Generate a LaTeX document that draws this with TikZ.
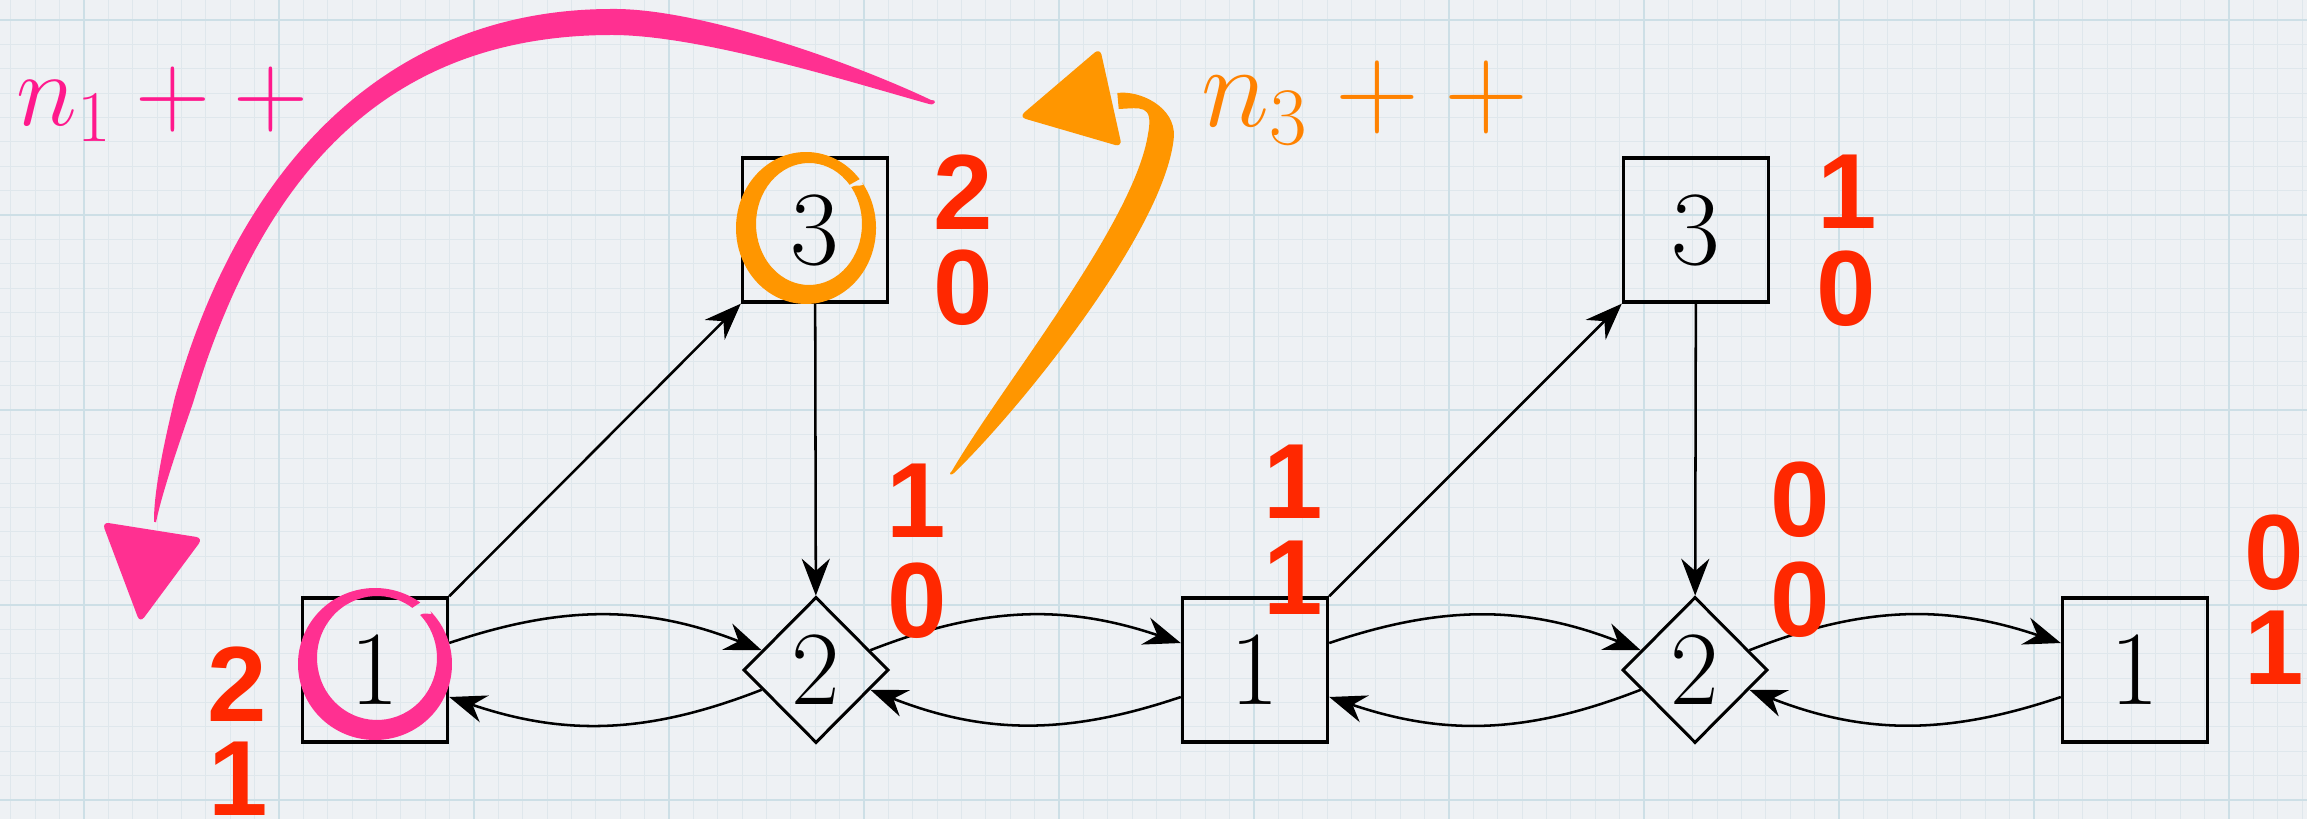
\RequirePackage{fix-cm}
\documentclass[tikz,border=0pt]{standalone}
\usepackage{fontspec}
\usepackage{graphicx}
\usetikzlibrary{arrows.meta,shapes.geometric}
\newfontfamily\numfont{Liberation Sans}
\definecolor{bgc}{RGB}{238,241,244}
\definecolor{minorc}{RGB}{223,231,236}
\definecolor{majorc}{RGB}{205,223,230}
\definecolor{pinkc}{RGB}{255,48,145}
\definecolor{pinktext}{RGB}{255,25,140}
\definecolor{orangec}{RGB}{255,150,0}
\definecolor{orangetext}{RGB}{255,130,0}
\definecolor{redc}{RGB}{255,40,0}
\tikzset{
  bx/.style={draw, line width=0.95pt, minimum width=1.45cm, minimum height=1.44cm, inner sep=0pt, fill=none, font=\fontsize{30}{36}\selectfont},
  dm/.style={draw, diamond, aspect=1, line width=0.85pt, minimum width=1.45cm, minimum height=1.46cm, inner sep=0pt, font=\fontsize{30}{36}\selectfont},
  arr/.style={line width=0.72pt, -{Stealth[length=10.5pt,width=8pt,inset=3.5pt]}},
  num/.style={text=redc, inner sep=0pt, font=\numfont\bfseries\fontsize{30.4}{36}\selectfont},
  minorline/.style={draw=minorc, line width=0.3pt},
  majorline/.style={draw=majorc, line width=0.6pt}
}
\begin{document}
\begin{tikzpicture}[x=0.01cm,y=-0.01cm]
\useasboundingbox (0,0) rectangle (2307,819);
% background paper
\fill[bgc] (0,0) rectangle (2307,819);
\foreach \k in {-3,...,91} {\draw[minorline] ({84+24.375*\k},0) -- ({84+24.375*\k},819);}
\foreach \k in {0,...,32} {\draw[minorline] (0,{20+24.375*\k}) -- (2307,{20+24.375*\k});}
\foreach \k in {0,...,11} {\draw[majorline] ({84+195*\k},0) -- ({84+195*\k},819);}
\foreach \k in {0,...,4} {\draw[majorline] (0,{20+195*\k}) -- (2307,{20+195*\k});}

% graph nodes
\node[bx] (b1) at (375,670) {1};
\node[dm] (d1) at (816,670) {2};
\node[bx] (bm) at (1255,670) {1};
\node[dm] (d2) at (1695,670) {2};
\node[bx] (br) at (2135,670) {1};
\node[bx] (t1) at (815,230) {3};
\node[bx] (t2) at (1696,230) {3};

% connectors
\draw[arr] (b1) to[bend left=20] (d1);
\draw[arr] (d1) to[bend left=20] (b1);
\draw[arr] (d1) to[bend left=20] (bm);
\draw[arr] (bm) to[bend left=20] (d1);
\draw[arr] (bm) to[bend left=20] (d2);
\draw[arr] (d2) to[bend left=20] (bm);
\draw[arr] (d2) to[bend left=20] (br);
\draw[arr] (br) to[bend left=20] (d2);
\draw[arr] (b1.north east) -- (t1.south west);
\draw[arr] (t1) -- (d1);
\draw[arr] (bm.north east) -- (t2.south west);
\draw[arr] (t2) -- (d2);

% red counters
\node[num] (l0a) at (237,684) {2};
\node[num] (l0b) at (238,779) {1};
\node[num] (l1a) at (963,192) {2};
\node[num] (l1b) at (963,288) {0};
\node[num] (l2a) at (1847,192) {1};
\node[num] (l2b) at (1846,289) {0};
\node[num] (l3a) at (916,501) {1};
\node[num] (l3b) at (917,601) {0};
\node[num] (l4a) at (1293,482) {1};
\node[num] (l4b) at (1293,578) {1};
\node[num] (l5a) at (1800,500) {0};
\node[num] (l5b) at (1800,600) {0};
\node[num] (l6a) at (2274,553) {0};
\node[num] (l6b) at (2274,648) {1};

% pink ring around node 1
\fill[pinkc] ([shift={(375,664)}]-44:77 and 76) arc[start angle=-44, end angle=306, x radius=77, y radius=76]
  -- ([shift={(377,658)}]306:60 and 62) arc[start angle=306, end angle=-44, x radius=60, y radius=62]
  .. controls +(6,-4) and +(4,6) .. cycle;
% orange ring around node 3
\fill[orangec] ([shift={(806,228)}]-37:70 and 76) arc[start angle=-37, end angle=320, x radius=70, y radius=76]
  -- ([shift={(809,224)}]320:53 and 61) arc[start angle=320, end angle=-37, x radius=53, y radius=61]
  .. controls +(6,-4) and +(4,6) .. cycle;

% pink brush arrow
\fill[pinkc] (931,100) .. controls (853.3,63.1) and (700,8) .. (612,9)
  .. controls (380,9) and (236.5,175.7) .. (174.9,397.4)
  .. controls (165.8,435.9) and (153.7,488.7) .. (154,521.7)
  -- (156,522.3) .. controls (162.3,491.3) and (180.2,440.1) .. (193.1,402.6)
  .. controls (259.5,182.3) and (380,35) .. (612,35)
  .. controls (700,35) and (846.7,80.9) .. (929,104)
  .. controls (936,106) and (937,99) .. cycle;
\fill[pinkc, rounded corners=2pt] (102,522) -- (203,538) -- (140,623) -- cycle;

% orange brush arrow
\fill[orangec] (951.8,471.1) .. controls (1002.8,384) and (1134.6,222.5) .. (1148.1,133.5)
  .. controls (1153.6,103.9) and (1140.8,108) .. (1118.7,109)
  -- (1117.3,93) .. controls (1139.2,90) and (1175.4,106.5) .. (1173.9,136.5)
  .. controls (1166.4,226.3) and (1026.4,402.4) .. (954.2,472.9)
  .. controls (951,476) and (948,474) .. cycle;
\fill[orangec, rounded corners=2pt] (1100,48) -- (1019,117) -- (1122,147) -- cycle;

% labels
\node[text=pinktext, anchor=base west, inner sep=0pt, font=\fontsize{26.4}{32}\selectfont] (n1) at (16,126) {\scalebox{1.12}{$n_1++$}};
\node[text=orangetext, anchor=base west, inner sep=0pt, font=\fontsize{30.4}{36}\selectfont] (n3) at (1201,127) {\scalebox{1.09}{$n_3++$}};
\end{tikzpicture}
\end{document}
